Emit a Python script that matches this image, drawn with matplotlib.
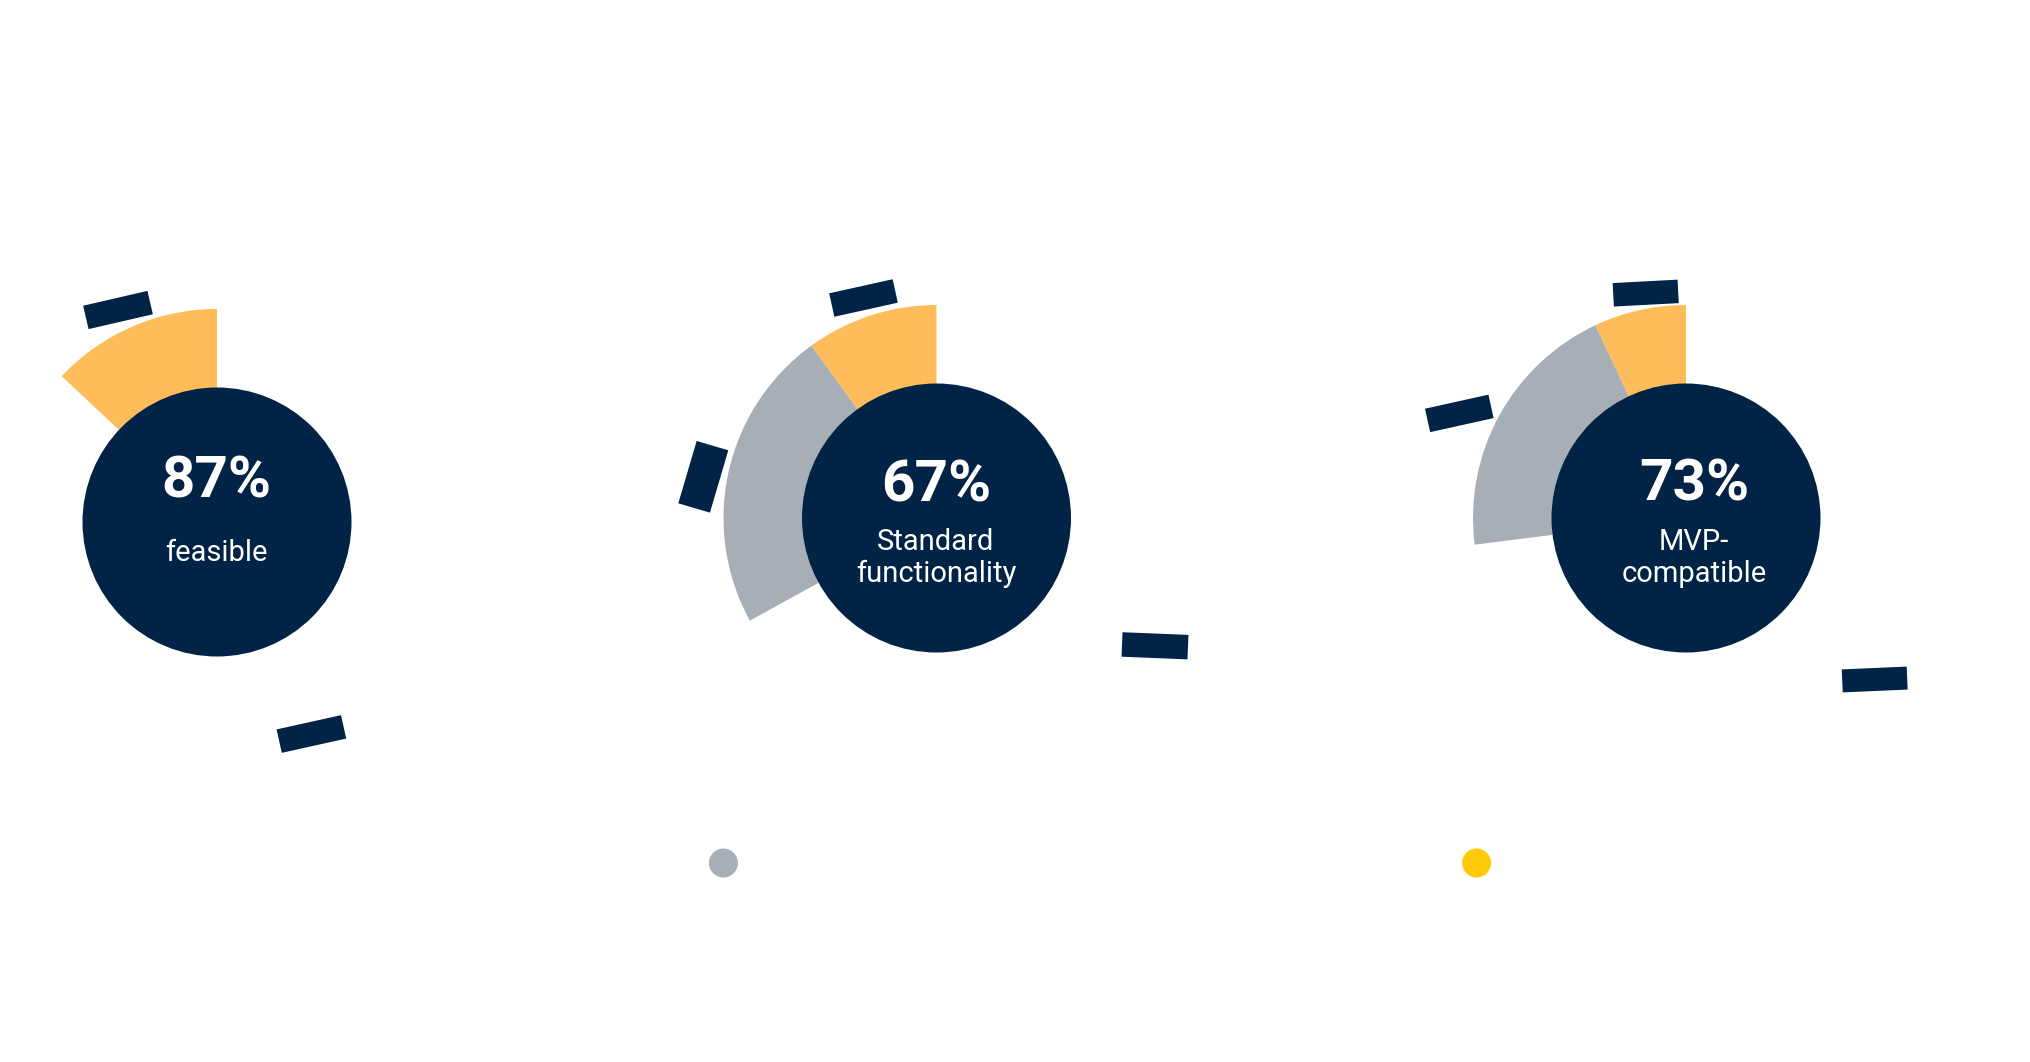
import matplotlib.pyplot as plt
from matplotlib.patches import Wedge, Circle, Rectangle

# data
labels = ["feasible", "Standard\nfunctionality", "MVP-\ncompatible"]
score_pct = [87, 67, 73]
orange_pct = [13, 10, 7]
gray_pct = [0, 23, 20]
legend_colors = ["#A8AEB6", "#FFC907"]

navy = "#012345"
orange = "#FEBD5A"
gray = "#A8AEB6"

# layout (pixels, y measured from the top of the image)
W, H = 2031, 1062
centers = [(217, 522), (936.5, 518), (1686, 518)]
r_outer = 213
r_inner = 134.5
text_x = [216, 936, 1694]
pct_base = [498, 501.6, 500.8]
label_base = [[560.7], [550.5, 581.6], [550.5, 581.6]]

# decorative dashes: (cx, cy, length, thickness, angle)
dashes = [
    (118, 310, 66, 24, 13), (311.4, 734, 66, 24, 12.5),
    (863.5, 298, 65, 24, 12.5), (703.3, 476.8, 65, 33, 73.6), (1155, 645.8, 66, 24.5, -2.3),
    (1645.7, 293.1, 65, 23.5, 3), (1459.3, 413.4, 65, 24, 12.5), (1874.7, 679.5, 65, 23, 2.5),
]
legend_x = [723.4, 1476.6]
legend_y = 863

fig = plt.figure(figsize=(W / 100, H / 100), dpi=100)
ax = fig.add_axes([0, 0, 1, 1])
ax.set_xlim(0, W)
ax.set_ylim(0, H)
ax.axis("off")

for i, (cx, cy) in enumerate(centers):
    y = H - cy
    a_orange = orange_pct[i] * 3.6
    a_gray = gray_pct[i] * 3.6
    ax.add_patch(Wedge((cx, y), r_outer, 90, 90 + a_orange, color=orange, lw=0))
    if a_gray > 0:
        ax.add_patch(Wedge((cx, y), r_outer, 90 + a_orange, 90 + a_orange + a_gray, color=gray, lw=0))
    ax.add_patch(Circle((cx, y), r_inner, color=navy, lw=0))

    ax.text(text_x[i], H - pct_base[i], f"{score_pct[i]}%", color="white",
            fontsize=42, fontweight="bold", family="Roboto", ha="center", va="baseline")
    for line, b in zip(labels[i].split("\n"), label_base[i]):
        ax.text(text_x[i], H - b, line, color="white", fontsize=21,
                family="Roboto", ha="center", va="baseline")

for cx, cy, w, h, ang in dashes:
    ax.add_patch(Rectangle((cx - w / 2, H - cy - h / 2), w, h, angle=ang,
                           rotation_point="center", color=navy, lw=0))

for x, c in zip(legend_x, legend_colors):
    ax.add_patch(Circle((x, H - legend_y), 14.5, color=c, lw=0))

fig.savefig("out.png", dpi=100, facecolor="white")
